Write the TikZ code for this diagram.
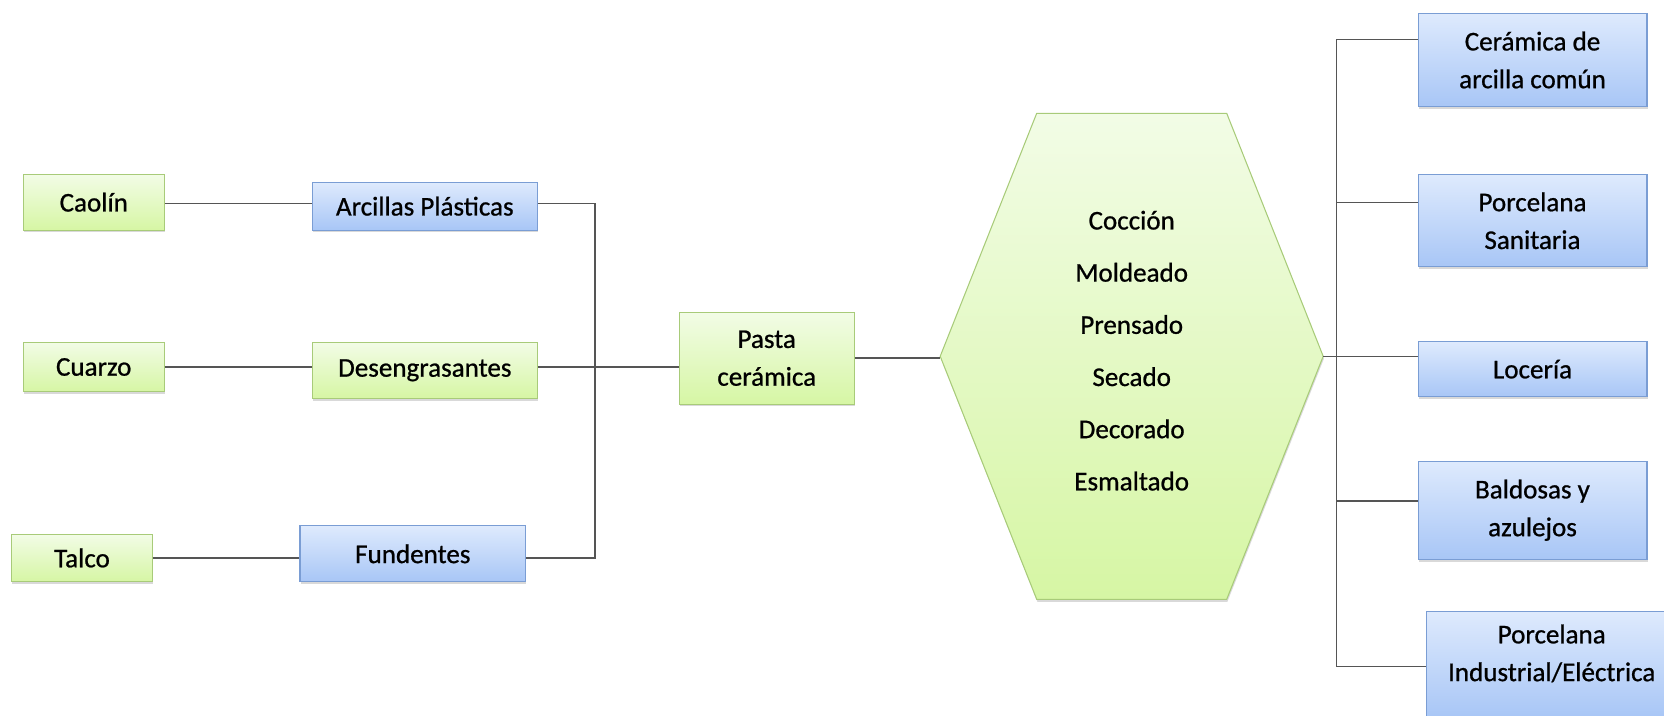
\documentclass[tikz,border=0pt]{standalone}
\usepackage{fontspec}
\setmainfont{Carlito}
\newfontfamily\labelfont{Carlito}[FakeBold=0.8]
\usetikzlibrary{shadows}

\definecolor{grnTop}{HTML}{F2FCE6}
\definecolor{grnBot}{HTML}{D6F6A4}
\definecolor{grnLine}{HTML}{A8CB79}
\definecolor{bluTop}{HTML}{DEEAFD}
\definecolor{bluBot}{HTML}{A8C6F6}
\definecolor{bluLine}{HTML}{7A9DD4}
\definecolor{wirecol}{HTML}{555555}

\tikzset{
  softshadow/.style={drop shadow={shadow xshift=0.4pt, shadow yshift=-1.4pt, opacity=0.3}},
  box/.style={rectangle, line width=0.6pt, align=center, inner sep=0pt,
    font=\labelfont\fontsize{15.4}{21.5}\selectfont, softshadow},
  greenbox/.style={box, draw=grnLine, top color=grnTop, bottom color=grnBot},
  bluebox/.style={box, draw=bluLine, top color=bluTop, bottom color=bluBot},
  wire/.style={draw=wirecol, line width=0.85pt},
}

\begin{document}
\begin{tikzpicture}[x=0.02cm, y=0.02cm]
\useasboundingbox (0,0) rectangle (1664,716);
\clip (0,0) rectangle (1664,716);

% raw materials
\node[greenbox, minimum width=2.82cm, minimum height=1.114cm] (caolin) at (93.8,513.8) {Caolín};
\node[greenbox, minimum width=2.82cm, minimum height=0.988cm] (cuarzo) at (93.7,349) {Cuarzo};
\node[greenbox, minimum width=2.812cm, minimum height=0.948cm] (talco) at (82,158) {Talco};

% material groups
\node[bluebox, minimum width=4.5cm, minimum height=0.954cm] (arcillas) at (424.8,509.8) {Arcillas Plásticas};
\node[greenbox, minimum width=4.5cm, minimum height=1.12cm] (desengrasantes) at (424.8,345.7) {Desengrasantes};
\node[bluebox, minimum width=4.514cm, minimum height=1.114cm] (fundentes) at (412.8,162.2) {Fundentes};

% paste
\node[greenbox, minimum width=3.494cm, minimum height=1.834cm] (pasta) at (766.7,357.8) {Pasta\\cerámica};

% processing hexagon
\coordinate (hL) at (940.2,359.7);
\coordinate (hR) at (1323.2,359.7);
\path[draw=grnLine, line width=0.6pt, top color=grnTop, bottom color=grnBot, softshadow]
  (hL) -- (1036.7,602.7) -- (1226.7,602.7) -- (hR) -- (1226.7,116.7) -- (1036.7,116.7) -- cycle;
\node[align=center, font=\labelfont\fontsize{15.4}{29.7}\selectfont, inner sep=0pt] (proc) at (1131.7,365.3)
  {Cocción\\Moldeado\\Prensado\\Secado\\Decorado\\Esmaltado};

% products
\node[bluebox, minimum width=4.58cm, minimum height=1.868cm] (ceramica) at (1532.5,656) {Cerámica de\\arcilla común};
\node[bluebox, minimum width=4.58cm, minimum height=1.834cm] (sanitaria) at (1532.5,495.2) {Porcelana\\Sanitaria};
\node[bluebox, minimum width=4.58cm, minimum height=1.1cm] (loceria) at (1532.5,346.8) {Locería};
\node[bluebox, minimum width=4.58cm, minimum height=1.966cm] (baldosas) at (1532.5,205.8) {Baldosas y\\azulejos};
\node[bluebox, minimum width=5.0cm, minimum height=2.12cm] (industrial) at (1551.7,51.3) {Porcelana\\Industrial/Eléctrica\\[-8pt]\mbox{}};

% left bus
\coordinate (b1) at (595,512.7);
\coordinate (b3) at (595,158);
\draw[wire] (caolin.east |- b1) -- (arcillas.west |- b1);
\draw[wire] (cuarzo.east) -- (cuarzo.east -| desengrasantes.west);
\draw[wire] (talco.east) -- (talco.east -| fundentes.west);
\draw[wire] (arcillas.east |- b1) -- (b1) -- (b3) -- (fundentes.east |- b3);
\draw[wire] (desengrasantes.east |- cuarzo.east) -- (pasta.west |- cuarzo.east);

% paste to processing
\draw[wire] (pasta.east) -- (pasta.east -| hL);

% right bus
\coordinate (t1) at (1336.7,676.7);
\coordinate (t2) at (1336.7,513.7);
\coordinate (t4) at (1336.7,215);
\coordinate (t5) at (1336.7,49.3);
\draw[wire] (t1) -- (t5);
\draw[wire] (t1) -- (t1 -| ceramica.west);
\draw[wire] (t2) -- (t2 -| sanitaria.west);
\draw[wire] (hR) -- (hR -| loceria.west);
\draw[wire] (t4) -- (t4 -| baldosas.west);
\draw[wire] (t5) -- (t5 -| industrial.west);
\end{tikzpicture}
\end{document}
